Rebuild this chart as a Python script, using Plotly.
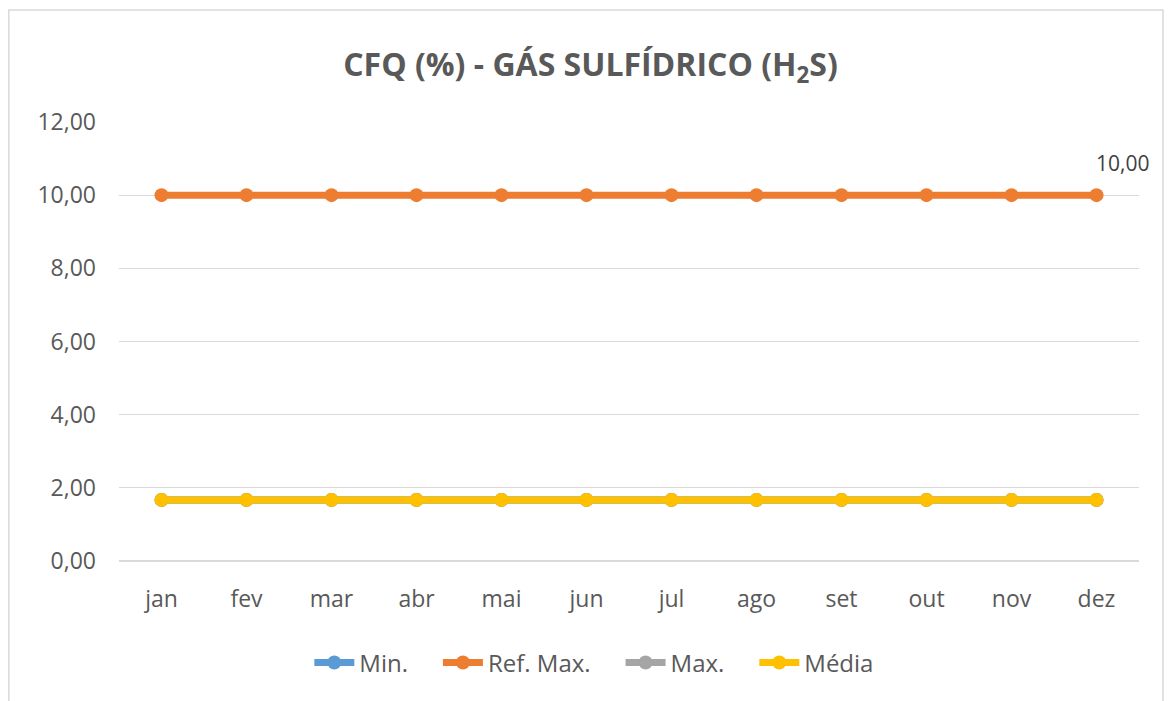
"""CFQ (%) - H2S monthly line chart, Excel look."""
import plotly.graph_objects as go

months = ["jan", "fev", "mar", "abr", "mai", "jun", "jul", "ago", "set", "out", "nov", "dez"]
min_vals = [1.67] * 12
ref_max_vals = [10.0] * 12
max_vals = [1.67] * 12
media_vals = [1.67] * 12
y_ticks = [0, 2, 4, 6, 8, 10, 12]

SERIES = [
    ("Min.", min_vals, "#5b9bd5"),
    ("Ref. Max.", ref_max_vals, "#ed7d31"),
    ("Max.", max_vals, "#a5a5a5"),
    ("Média", media_vals, "#ffc000"),
]

FONT = "Open Sans, Liberation Sans, sans-serif"
GREY = "#595959"
PAD = "\u00a0" * 4  # Excel legend has wider gaps between entries

fig = go.Figure()
for i, (name, vals, color) in enumerate(SERIES):
    label = name if i == len(SERIES) - 1 else name + PAD
    fig.add_scatter(
        x=months, y=vals, name=label, mode="lines+markers",
        line=dict(color=color, width=7),
        marker=dict(color=color, size=14),
    )

# data label on the last Ref. Max. point
fig.add_annotation(
    x=months[-1], y=ref_max_vals[-1], text=f"{ref_max_vals[-1]:.2f}".replace(".", ","),
    showarrow=False, xanchor="left", yanchor="middle", xshift=-3, yshift=32,
    font=dict(family=FONT, size=21, color="#404040"),
)

# outer chart frame (page body adds an 8px offset)
fig.add_shape(type="rect", xref="paper", yref="paper",
              x0=-0.108, x1=1.0235, y0=-0.4, y1=1.255,
              line=dict(color="#d9d9d9", width=1.5), layer="below")

fig.update_layout(
    width=1165, height=693,
    margin=dict(l=111, r=34, t=114, b=140),
    paper_bgcolor="white", plot_bgcolor="white",
    separators=",.",
    font=dict(family=FONT, color=GREY),
    title=dict(
        text="<b>CFQ (%) - GÁS SULFÍDRICO (H<sub>2</sub>S)</b>",
        x=0.5, xanchor="center", y=0.918, yanchor="middle",
        font=dict(family=FONT, size=32, color=GREY),
    ),
    xaxis=dict(
        showgrid=False, showline=False, ticks="",
        tickfont=dict(size=23, color=GREY), ticklabelstandoff=22,
        range=[-0.5, 11.5],
    ),
    yaxis=dict(
        range=[0, 12], tickvals=y_ticks, tickformat=".2f",
        showgrid=True, gridcolor="#d9d9d9", gridwidth=1,
        zeroline=True, zerolinecolor="#d9d9d9", zerolinewidth=1.5,
        tickfont=dict(size=23, color=GREY), ticks="", ticklabelstandoff=22,
    ),
    legend=dict(
        orientation="h", x=0.466, xanchor="center", y=-0.232, yanchor="middle",
        font=dict(size=24, color=GREY), itemwidth=40,
    ),
)

fig.write_html("out.html")
